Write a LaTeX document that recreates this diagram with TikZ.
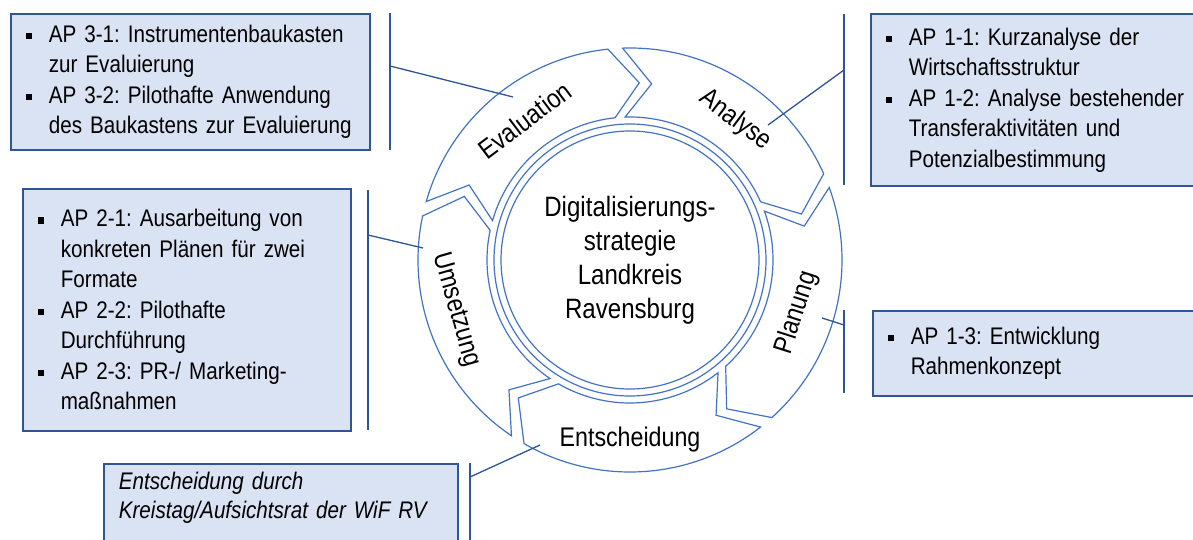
\documentclass[tikz,border=0pt]{standalone}
\usepackage{fontspec}
\setmainfont[FakeStretch=0.86]{Liberation Sans}
\usetikzlibrary{calc}
\frenchspacing

\definecolor{ringblue}{RGB}{68,114,196}
\definecolor{boxfill}{RGB}{218,227,243}
\definecolor{boxline}{RGB}{47,85,151}

\newcommand\apbul{\makebox[23pt][l]{\raisebox{3pt}{\rule{6.5pt}{6.5pt}}}}
\newcommand\apitem[1]{\mbox{\apbul #1}}
\newcommand\apcont[1]{\mbox{\hspace*{23pt}#1}}

\tikzset{
  seg/.style={draw=ringblue, line width=1.2pt, fill=white, line join=miter},
  ring/.style={draw=ringblue, line width=1.2pt},
  seglabel/.style={font=\fontsize{27}{30}\selectfont, inner sep=0pt},
  centertext/.style={align=center, font=\fontsize{28}{34}\selectfont},
  apbox/.style={draw=boxline, line width=1.6pt, fill=boxfill, anchor=north west,
    align=left, inner xsep=15pt, inner ysep=0pt, font=\fontsize{24}{30.5}\selectfont},
  bar/.style={draw=boxline, line width=2pt},
  link/.style={draw=boxline, line width=1.3pt}
}

\begin{document}
\begin{tikzpicture}[x=1pt,y=1pt]
\clip (0,0) rectangle (1193,-540);
\fill[white] (0,0) rectangle (1193,-540);

% cycle
\begin{scope}[shift={(630,-260)}]
\foreach \s in {92,20,-52,-124,164}{
  \pgfmathsetmacro\e{\s-68}
  \draw[seg] (\s:212) arc[start angle=\s, end angle=\e, radius=212]
    -- (\e-9:177.5) -- (\e:143) arc[start angle=\e, end angle=\s, radius=143]
    -- (\s-9:177.5) -- cycle;
}
\draw[ring] (0,0) circle[radius=129];
\draw[ring] (0,0) circle[radius=136];
\node[centertext] (strategy) at (0,0) {Digitalisierungs-\\strategie\\Landkreis\\Ravensburg};
\node[seglabel, rotate=-37] (analyse) at (53:175) {Analyse};
\node[seglabel, rotate=72.4] (planung) at (-17.6:175) {Planung};
\node[seglabel] (entscheidung) at (-90:180) {Entscheidung};
\node[seglabel, rotate=-74] (umsetzung) at (196:181) {Umsetzung};
\node[seglabel, rotate=37] (evaluation) at (127:175) {Evaluation};
\end{scope}

% boxes
\node[apbox, text width=329, minimum height=136] (evalbox) at (10,-13)
  {\apitem{AP 3-1: Instrumentenbaukasten}\\\apcont{zur Evaluierung}\\
   \apitem{AP 3-2: Pilothafte Anwendung}\\\apcont{des Baukastens zur Evaluierung}};
\node[apbox, text width=315, minimum height=172] (analysebox) at (870,-13)
  {\apitem{AP 1-1: Kurzanalyse der}\\\apcont{Wirtschaftsstruktur}\\
   \apitem{AP 1-2: Analyse bestehender}\\\apcont{Transferaktivitäten und}\\
   \apcont{Potenzialbestimmung}};
\node[apbox, text width=298, minimum height=242] (umsetzbox) at (22,-188)
  {\apitem{AP 2-1: Ausarbeitung von}\\\apcont{konkreten Plänen für zwei}\\
   \apcont{Formate}\\\apitem{AP 2-2: Pilothafte}\\\apcont{Durchführung}\\
   \apitem{AP 2-3: PR-/ Marketing-}\\\apcont{maßnahmen}};
\node[apbox, text width=315, minimum height=85] (planbox) at (872,-310)
  {\apitem{AP 1-3: Entwicklung}\\\apcont{Rahmenkonzept}};
\node[apbox, text width=324, minimum height=100, font=\fontsize{24}{28.5}\selectfont\itshape]
  (entschbox) at (103,-463)
  {\mbox{Entscheidung durch}\\\mbox{Kreistag/Aufsichtsrat der WiF RV}\\\strut};

% brackets and links
\coordinate (evaltop) at (390,-13);
\coordinate (evalbot) at (390,-150);
\coordinate (evaljoin) at (390,-66);
\coordinate (evalend) at (513,-97);
\coordinate (anatop) at (844,-14);
\coordinate (anabot) at (844,-185);
\coordinate (anajoin) at (844,-70);
\coordinate (anaend) at (768,-125);
\coordinate (umstop) at (368,-190);
\coordinate (umsbot) at (368,-430);
\coordinate (umsjoin) at (368,-235);
\coordinate (umsend) at (423,-248);
\coordinate (plantop) at (844,-310);
\coordinate (planbot) at (844,-393);
\coordinate (planjoin) at (844,-325);
\coordinate (planend) at (822,-318);
\coordinate (enttop) at (470,-463);
\coordinate (entbot) at (470,-545);
\coordinate (entjoin) at (470,-477);
\coordinate (entend) at (540,-445);

\draw[bar] (evaltop) -- (evalbot);
\draw[link] (evaljoin) -- (evalend);
\draw[bar] (anatop) -- (anabot);
\draw[link] (anajoin) -- (anaend);
\draw[bar] (umstop) -- (umsbot);
\draw[link] (umsjoin) -- (umsend);
\draw[bar] (plantop) -- (planbot);
\draw[link] (planjoin) -- (planend);
\draw[bar] (enttop) -- (entbot);
\draw[link] (entjoin) -- (entend);
\end{tikzpicture}
\end{document}
